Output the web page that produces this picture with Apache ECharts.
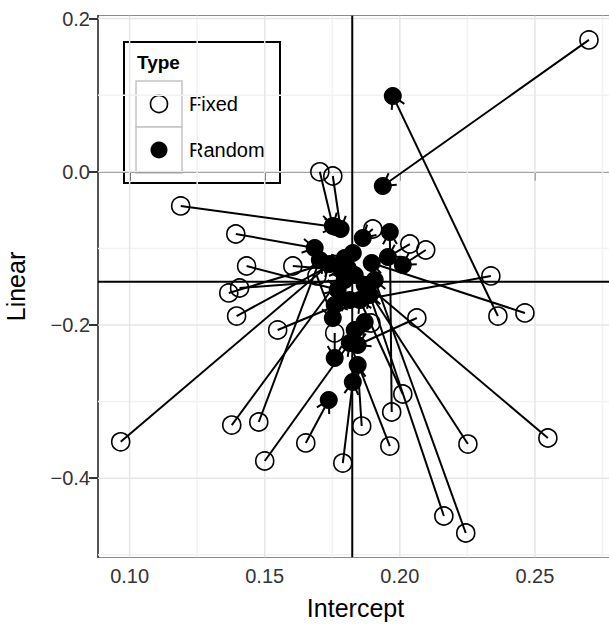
<!DOCTYPE html>
<html>
<head>
<meta charset="utf-8">
<script src="https://cdn.jsdelivr.net/npm/echarts@6/dist/echarts.min.js"></script>
<style>
  html, body { margin: 0; padding: 0; background: #fff; }
  #chart { width: 609px; height: 624px; }
</style>
</head>
<body>
<div id="chart"></div>
<script>
// Per-group estimates: fixed-effect fits (open) and shrunken random-effect fits (filled)
const fixedIntercept = [0.2700, 0.1704, 0.1752, 0.1189, 0.1393, 0.1433, 0.1604, 0.1407, 0.1367, 0.1396,
  0.1548, 0.1900, 0.2037, 0.2096, 0.2337, 0.2363, 0.2463, 0.2063, 0.1893, 0.2011,
  0.1970, 0.1859, 0.1963, 0.2252, 0.2548, 0.2163, 0.2244, 0.0967, 0.1378, 0.1478,
  0.1500, 0.1652, 0.1789, 0.1759, 0.1693];
const fixedLinear = [0.1721, 0.0000, -0.0055, -0.0446, -0.0812, -0.1230, -0.1230, -0.1517, -0.1582, -0.1883,
  -0.2065, -0.0747, -0.0943, -0.1021, -0.1360, -0.1883, -0.1843, -0.1909, -0.1974, -0.2901,
  -0.3136, -0.3319, -0.3580, -0.3554, -0.3475, -0.4493, -0.4715, -0.3525, -0.3306, -0.3266,
  -0.3775, -0.3540, -0.3802, -0.2104, -0.1360];
const randomIntercept = [0.1937, 0.1752, 0.1781, 0.1763, 0.1685, 0.1770, 0.1785, 0.1796, 0.1796, 0.1826,
  0.1815, 0.1863, 0.1956, 0.2011, 0.1759, 0.1974, 0.1896, 0.1844, 0.1833, 0.1852,
  0.1963, 0.1844, 0.1815, 0.1870, 0.1833, 0.1889, 0.1907, 0.1741, 0.1807, 0.1704,
  0.1870, 0.1737, 0.1826, 0.1759, 0.1752];
const randomLinear = [-0.0185, -0.0708, -0.0747, -0.0721, -0.0995, -0.1540, -0.1282, -0.1413, -0.1125, -0.1060,
  -0.1674, -0.0864, -0.1112, -0.1217, -0.1739, 0.0990, -0.1191, -0.2261, -0.2065, -0.1674,
  -0.0786, -0.2522, -0.2235, -0.1478, -0.1347, -0.1608, -0.1413, -0.1204, -0.1256, -0.1151,
  -0.1961, -0.2979, -0.2744, -0.2431, -0.1909];

// Population means (reference lines)
const meanIntercept = 0.1824;
const meanLinear = -0.1435;

// Axis ticks and grid
const xTicks = [0.10, 0.15, 0.20, 0.25];
const yTicks = [0.2, 0.0, -0.2, -0.4];
const xMinor = [0.125, 0.175, 0.225, 0.275];
const yMinor = [0.1, -0.1, -0.3, -0.5];

const X_MIN = 0.0883, X_MAX = 0.2789;
const Y_MIN = -0.5035, Y_MAX = 0.2040;
const FONT = '"Liberation Sans", Arial, Helvetica, sans-serif';

const fixedPts = fixedIntercept.map((x, i) => [x, fixedLinear[i]]);
const randomPts = randomIntercept.map((x, i) => [x, randomLinear[i]]);
const segments = fixedIntercept.map((x, i) => [x, fixedLinear[i], randomIntercept[i], randomLinear[i]]);

function gridLineSeries(values, vertical, color, width, z) {
  return {
    type: 'custom', silent: true, z: z, clip: true,
    data: values.map(v => vertical ? [v, Y_MIN] : [X_MIN, v]),
    encode: { x: 0, y: 1 },
    renderItem: function (params, api) {
      const cs = params.coordSys;
      const p = api.coord([api.value(0), api.value(1)]);
      const shape = vertical
        ? { x1: p[0], y1: cs.y, x2: p[0], y2: cs.y + cs.height }
        : { x1: cs.x, y1: p[1], x2: cs.x + cs.width, y2: p[1] };
      return { type: 'line', shape: shape, style: { stroke: color, lineWidth: width } };
    }
  };
}

const ARROW_LEN = 14, ARROW_ANGLE = Math.PI / 6;

const option = {
  animation: false,
  backgroundColor: '#fff',
  grid: { left: 98, right: -4, top: 15.5, bottom: 66.5, outerBoundsMode: 'none', containLabel: false,
    show: true, borderColor: '#8a8a8a', borderWidth: 1.2 },
  xAxis: {
    type: 'value', min: X_MIN, max: X_MAX,
    name: 'Intercept', nameLocation: 'middle', nameGap: 38,
    nameTextStyle: { fontFamily: FONT, fontSize: 25, color: '#000' },
    axisLine: { show: true, lineStyle: { color: '#333', width: 1.5 } },
    axisTick: { show: true, customValues: xTicks, length: 9, lineStyle: { color: '#333', width: 2 } },
    axisLabel: { customValues: xTicks, fontFamily: FONT, fontSize: 20, color: '#333', margin: 8,
      formatter: v => v.toFixed(2) },
    splitLine: { show: false }
  },
  yAxis: {
    type: 'value', min: Y_MIN, max: Y_MAX,
    name: 'Linear', nameLocation: 'middle', nameGap: 70, nameRotate: 90,
    nameTextStyle: { fontFamily: FONT, fontSize: 25, color: '#000' },
    axisLine: { show: true, lineStyle: { color: '#333', width: 1.5 } },
    axisTick: { show: true, customValues: yTicks, length: 9, lineStyle: { color: '#333', width: 2 } },
    axisLabel: { customValues: yTicks, fontFamily: FONT, fontSize: 20, color: '#333', margin: 8,
      formatter: v => v.toFixed(1).replace('-', '\u2212') },
    splitLine: { show: false }
  },
  series: [
    gridLineSeries(xMinor, true, '#f2f2f2', 1.5, 1),
    gridLineSeries(yMinor, false, '#f2f2f2', 1.5, 1),
    gridLineSeries(xTicks, true, '#e6e6e6', 1.5, 1),
    gridLineSeries(yTicks, false, '#e6e6e6', 1.5, 1),
    gridLineSeries([meanIntercept], true, '#000', 2, 2),
    gridLineSeries([meanLinear], false, '#000', 2, 2),
    {
      // shrinkage arrows from fixed to random estimate
      type: 'custom', silent: true, z: 3, clip: true,
      data: segments,
      encode: { x: [0, 2], y: [1, 3] },
      renderItem: function (params, api) {
        const a = api.coord([api.value(0), api.value(1)]);
        const b = api.coord([api.value(2), api.value(3)]);
        const dx = b[0] - a[0], dy = b[1] - a[1];
        const len = Math.hypot(dx, dy) || 1;
        const ux = dx / len, uy = dy / len;
        const rot = (ang) => {
          const c = Math.cos(ang), s = Math.sin(ang);
          return [b[0] - ARROW_LEN * (ux * c - uy * s), b[1] - ARROW_LEN * (ux * s + uy * c)];
        };
        const style = { stroke: '#000', lineWidth: 2, fill: null };
        return {
          type: 'group',
          children: [
            { type: 'line', shape: { x1: a[0], y1: a[1], x2: b[0], y2: b[1] }, style: style },
            { type: 'polyline', shape: { points: [rot(ARROW_ANGLE), b, rot(-ARROW_ANGLE)] }, style: style }
          ]
        };
      }
    },
    {
      name: 'Fixed', type: 'scatter', z: 4, silent: true,
      data: fixedPts, symbol: 'circle', symbolSize: 18,
      itemStyle: { color: 'rgba(255,255,255,0)', borderColor: '#000', borderWidth: 1.6, opacity: 1 }
    },
    {
      name: 'Random', type: 'scatter', z: 5, silent: true,
      data: randomPts, symbol: 'circle', symbolSize: 18,
      itemStyle: { color: '#000', opacity: 1 }
    }
  ],
  graphic: [{
    type: 'group', z: 100,
    children: [
      { type: 'rect', shape: { x: 124, y: 42, width: 156, height: 141 },
        style: { fill: '#fff', stroke: '#000', lineWidth: 2 } },
      { type: 'text', x: 137, y: 62,
        style: { text: 'Type', font: 'bold 19px ' + FONT, fill: '#000', verticalAlign: 'middle' } },
      { type: 'rect', shape: { x: 136, y: 81, width: 46, height: 46 },
        style: { fill: '#fff', stroke: '#c4c4c4', lineWidth: 1.5 } },
      { type: 'rect', shape: { x: 136, y: 127, width: 46, height: 46 },
        style: { fill: '#fff', stroke: '#c4c4c4', lineWidth: 1.5 } },
      { type: 'circle', shape: { cx: 159, cy: 104, r: 8.5 },
        style: { fill: 'none', stroke: '#000', lineWidth: 1.6 } },
      { type: 'circle', shape: { cx: 159, cy: 150, r: 8.5 },
        style: { fill: '#000' } },
      { type: 'text', x: 189, y: 104,
        style: { text: 'Fixed', font: '20px ' + FONT, fill: '#000', verticalAlign: 'middle' } },
      { type: 'text', x: 189, y: 150,
        style: { text: 'Random', font: '20px ' + FONT, fill: '#000', verticalAlign: 'middle' } }
    ]
  }]
};

const chart = echarts.init(document.getElementById('chart'), null, { renderer: 'svg' });
chart.setOption(option);
</script>
</body>
</html>
